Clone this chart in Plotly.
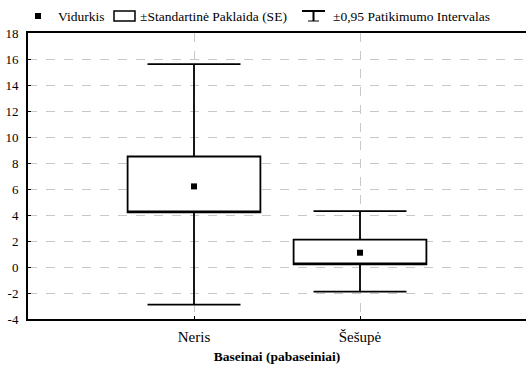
import plotly.graph_objects as go

categories = ["Neris", "Šešupė"]
means = [6.2, 1.1]
se_low = [4.2, 0.2]
se_high = [8.5, 2.1]
ci_low = [-2.9, -1.9]
ci_high = [15.6, 4.3]
y_ticks = [-4, -2, 0, 2, 4, 6, 8, 10, 12, 14, 16, 18]
y_ticktext = ["-4", "-2", "0", "2", "4", "6", "8", "10", "12", "14", "16", "18"]

FONT = "Liberation Serif"
W, H = 526, 369
L, R, T, B = 28, 0, 33, 50
PW, PH = W - L - R, H - T - B


def px(xp):
    return (xp - L) / PW


def py(yp):
    return (H - B - yp) / PH


fig = go.Figure()
fig.add_trace(go.Box(
    x=categories,
    q1=se_low, median=se_low, q3=se_high,
    lowerfence=ci_low, upperfence=ci_high,
    width=0.8, whiskerwidth=0.7,
    fillcolor="white",
    line=dict(color="black", width=1.8),
    boxpoints=False, showlegend=False, hoverinfo="skip",
))
fig.add_trace(go.Scatter(
    x=categories, y=means, mode="markers",
    marker=dict(symbol="square", size=6, color="black",
                line=dict(color="black", width=0)),
    showlegend=False, hoverinfo="skip",
))

grid = dict(showgrid=True, gridcolor="#c8c8c8", griddash="dash", gridwidth=1)
fig.update_xaxes(
    type="category", range=[-1, 2], **grid,
    showline=True, linecolor="black", linewidth=2, mirror=True,
    ticks="inside", ticklen=3, tickcolor="black",
    tickfont=dict(family=FONT, size=15, color="black"),
    ticklabelstandoff=3,
    title=dict(text="<b>Baseinai (pabaseiniai)</b>",
               font=dict(family=FONT, size=13.5, color="black"), standoff=8),
    zeroline=False,
)
fig.update_yaxes(
    range=[-4, 18], tickvals=y_ticks, ticktext=y_ticktext, **grid,
    showline=True, linecolor="black", linewidth=2, mirror=False,
    ticks="inside", ticklen=3, tickcolor="black",
    tickfont=dict(family=FONT, size=13, color="black"),
    ticklabelstandoff=5,
    zeroline=False,
)

# legend built from annotations and shapes
ly = 16
fig.add_shape(type="rect", xref="paper", yref="paper",
              x0=px(35), x1=px(41), y0=py(19), y1=py(13),
              fillcolor="black", line=dict(width=0))
fig.add_shape(type="rect", xref="paper", yref="paper",
              x0=px(114), x1=px(135), y0=py(21), y1=py(11),
              fillcolor="white", line=dict(color="black", width=1.5))
fig.add_shape(type="line", xref="paper", yref="paper",
              x0=px(302), x1=px(325), y0=py(11), y1=py(11),
              line=dict(color="black", width=2))
fig.add_shape(type="line", xref="paper", yref="paper",
              x0=px(313.5), x1=px(313.5), y0=py(11), y1=py(21),
              line=dict(color="black", width=2))
fig.add_shape(type="line", xref="paper", yref="paper",
              x0=px(308), x1=px(319), y0=py(21), y1=py(21),
              line=dict(color="black", width=1))
for text, xpos in [("Vidurkis", 56), ("±Standartinė Paklaida (SE)", 138),
                   ("±0,95 Patikimumo Intervalas", 331)]:
    fig.add_annotation(text=text, xref="paper", yref="paper",
                       x=px(xpos), y=py(ly), xanchor="left", yanchor="middle",
                       showarrow=False,
                       font=dict(family=FONT, size=13.5, color="black"))

fig.update_layout(
    width=W, height=H,
    margin=dict(l=L, r=R, t=T, b=B, pad=0),
    paper_bgcolor="white", plot_bgcolor="white",
    font=dict(family=FONT, color="black"),
)
fig.write_html("out.html")
